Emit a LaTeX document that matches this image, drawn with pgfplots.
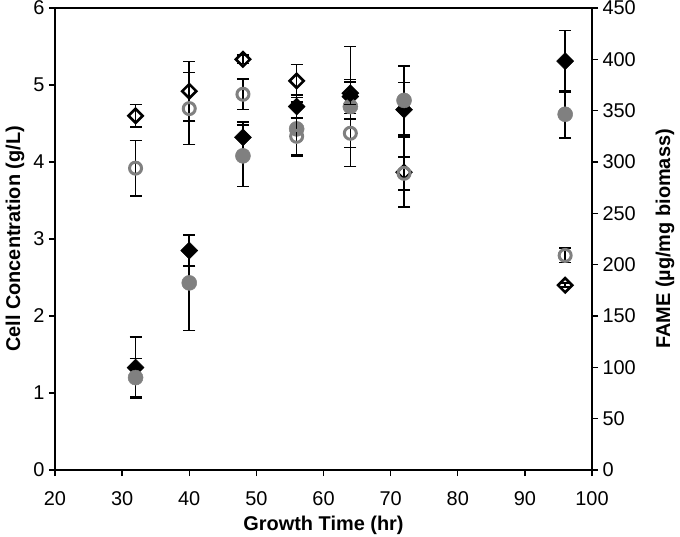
\documentclass[border=0pt]{standalone}
\usepackage{pgfplots}
\pgfplotsset{compat=1.18}
\usepackage{pgfplotstable}
\usepackage{fontspec}
\setmainfont{Liberation Sans}
\definecolor{mgray}{RGB}{128,128,128}

% filled diamonds (cell concentration, left axis)
\pgfplotstableread{
x y e
32 1.33 0.40
40 2.85 0.20
48 4.32 0.20
56 4.72 0.15
64 4.85 0.22
72 4.68 0.35
96 5.31 0.40
}\cellA
% filled gray circles (cell concentration, left axis)
\pgfplotstableread{
x y e
32 1.20 0.25
40 2.43 0.62
48 4.08 0.40
56 4.43 0.35
64 4.72 0.78
72 4.80 0.45
96 4.62 0.31
}\cellB
% open diamonds (FAME, right axis)
\pgfplotstableread{
x y e
32 345 11
40 369 29
48 400 4
56 379 16
64 367 11
72 290 34
96 180 2
}\fameA
% open gray circles (FAME, right axis)
\pgfplotstableread{
x y e
32 294 27
40 352 35
48 366 15
56 325 18
64 328 14
72 289 16
96 209 7
}\fameB

\begin{document}
\begin{tikzpicture}
\path[use as bounding box] (-55bp,-67bp) rectangle (625bp,470bp);
\pgfplotsset{
  common/.style={
    at={(0,0)}, anchor=south west,
    scale only axis, width=537bp, height=462bp,
    xmin=20, xmax=100,
    tick align=outside, major tick length=6bp,
    tick style={black, line width=1.3pt},
    axis line style={black, line width=1.6pt},
    tick label style={font=\fontsize{20}{23}\selectfont},
    label style={font=\bfseries\fontsize{20}{23}\selectfont},
    /pgf/number format/assume math mode=true,
    error bars/error bar style={black, line width=1.6pt},
    error bars/error mark options={black, rotate=90, mark size=6bp, line width=1.6pt},
  }
}
\begin{axis}[common,
  ymin=0, ymax=6, ytick={0,1,...,6},
  xtick={20,30,...,100},
  xtick pos=bottom, ytick pos=left,
  xticklabel style={anchor=center, yshift=-23bp},
  yticklabel style={anchor=east, xshift=-1bp},
  xlabel={Growth Time (hr)},
  ylabel={Cell Concentration (g/L)},
  xlabel style={at={(axis description cs:0.5,-0.119)}, anchor=center},
  ylabel style={at={(axis description cs:-0.0745,0.5)}, anchor=center},
]
\addplot[only marks, mark=square*, mark size=6bp,
  mark options={rotate=45, fill=black, draw=black, line width=0.5pt},
  error bars/.cd, y dir=both, y explicit]
  table[x=x, y=y, y error=e]{\cellA};
\addplot[only marks, mark=*, mark size=7.5bp,
  mark options={fill=mgray, draw=mgray, line width=0.5pt},
  error bars/.cd, y dir=both, y explicit]
  table[x=x, y=y, y error=e]{\cellB};
\end{axis}
\begin{axis}[common,
  ymin=0, ymax=450, ytick={0,50,...,450},
  axis y line*=right, axis x line=none,
  yticklabel style={anchor=west, xshift=1bp},
  ylabel={FAME (µg/mg biomass)},
  ylabel style={at={(axis description cs:1.136,0.5)}, anchor=center},
]
\addplot[only marks, mark=square, mark size=5bp,
  mark options={rotate=45, fill=white, draw=black, line width=2.6pt},
  error bars/.cd, y dir=both, y explicit]
  table[x=x, y=y, y error=e]{\fameA};
\addplot[only marks, mark=o, mark size=6bp,
  mark options={fill=white, draw=mgray, line width=3pt},
  error bars/.cd, y dir=both, y explicit]
  table[x=x, y=y, y error=e]{\fameB};
\end{axis}
\end{tikzpicture}
\end{document}
